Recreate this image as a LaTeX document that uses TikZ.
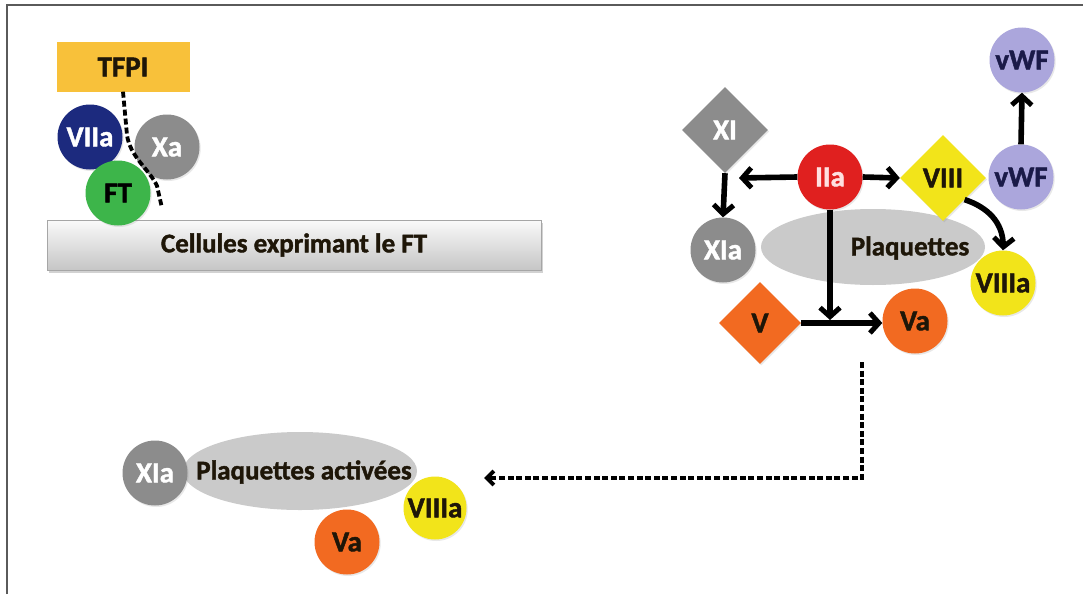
\documentclass[tikz,border=0pt]{standalone}
\usepackage{fontspec}
\setmainfont{Carlito}[BoldFeatures={FakeBold=1.5}]
\usetikzlibrary{shapes.geometric,arrows.meta,shadows,bending}

\definecolor{tfpiY}{HTML}{F8C13A}
\definecolor{navyF}{HTML}{1C2A7E}
\definecolor{grayF}{HTML}{8C8C8C}
\definecolor{greenF}{HTML}{3DB54A}
\definecolor{redF}{HTML}{E0201F}
\definecolor{yellowF}{HTML}{F2E41A}
\definecolor{lilacF}{HTML}{ABA6DC}
\definecolor{orangeF}{HTML}{F26A21}
\definecolor{plateG}{HTML}{CACACA}
\definecolor{darkTxt}{HTML}{1E1608}
\definecolor{navyTxt}{HTML}{1A1A48}
\definecolor{frameG}{HTML}{5A5A5A}

\begin{document}
\begin{tikzpicture}[x=1pt,y=-1pt,
  lbl/.style={font=\fontsize{29}{29}\selectfont\bfseries},
  longlbl/.style={font=\fontsize{27}{27}\selectfont\bfseries},
  factor/.style={circle, minimum size=65pt, inner sep=0pt, lbl,
    drop shadow={shadow xshift=1.2pt, shadow yshift=-1.5pt, opacity=0.18}},
  zymo/.style={diamond, minimum size=86pt, inner sep=0pt, lbl,
    drop shadow={shadow xshift=1.2pt, shadow yshift=-1.5pt, opacity=0.18}},
  platelet/.style={ellipse, fill=plateG, inner sep=0pt},
  flow/.style={line width=5.6pt, -{Straight Barb[length=9pt,width=20pt,line width=5pt]}},
  relay/.style={line width=4.4pt, dash pattern=on 6pt off 2.6pt,
    -{Straight Barb[length=7pt,width=14pt,line width=4pt]}},
  tfpiline/.style={line width=3.8pt, dash pattern=on 6pt off 3pt}
]
\useasboundingbox (0,0) rectangle (1083,594);
\fill[white] (0,0) rectangle (1083,594);

% page frame (left and top edges)
\draw[frameG, line width=1.6pt] (7,594) -- (7,5) -- (1083,5);

% ---------------- initiation on TF-bearing cells ----------------
\node[draw=gray!70, line width=0.8pt, top color=white!96!gray, bottom color=gray!45,
      minimum width=494pt, minimum height=50pt, inner sep=0pt,
      drop shadow={shadow xshift=1.5pt, shadow yshift=-3pt, opacity=0.35},
      longlbl, text=darkTxt]
  (cells) at (294,245) {Cellules exprimant le FT};

\node[rectangle, fill=tfpiY, minimum width=133pt, minimum height=49pt, inner sep=0pt,
      lbl, text=darkTxt] (tfpi) at (123,67) {TFPI};

\node[factor, fill=grayF, text=white] (xa) at (167,147) {Xa};
\node[factor, fill=navyF, text=white] (viia) at (90,137) {VIIa};
\node[factor, fill=greenF, text=black] (ft) at (118,193) {FT};

\coordinate (tfpiA) at (127,135);
\coordinate (tfpiB) at (157,186);
\coordinate (tfpiC) at (162,208);
\draw[tfpiline] (tfpi.south) -- (tfpiA) .. controls (130,157) and (150,170) .. (tfpiB) -- (tfpiC);

% ---------------- amplification on platelets ----------------
\node[platelet, minimum width=224pt, minimum height=76pt] (plq) at (873,247) {};
\node[longlbl, text=darkTxt] (plqtxt) at (910,248) {Plaquettes};

\node[zymo, fill=grayF, text=white] (xi) at (725,130) {XI};
\node[factor, fill=grayF, text=white] (xia) at (723,250) {XIa};
\node[factor, fill=redF, text=red!12!white] (iia) at (830,177) {IIa};
\node[zymo, fill=yellowF, text=darkTxt] (viii) at (943,178) {VIII};
\node[factor, fill=lilacF, text=navyTxt] (vwfB) at (1021,177) {vWF};
\node[factor, fill=lilacF, text=navyTxt] (vwfT) at (1022,60) {vWF};
\node[factor, fill=yellowF, text=darkTxt] (viiia) at (1003,283) {VIIIa};
\node[zymo, minimum size=82pt, fill=orangeF, text=darkTxt] (v) at (760,323) {V};
\node[factor, fill=orangeF, text=darkTxt] (va) at (915,321) {Va};

\coordinate (leftTip) at (739,178);
\coordinate (joinV) at (830,320);

\draw[flow] (xi.south) -- (xia.north);
\draw[flow] (iia.west) -- (leftTip);
\draw[flow] (iia.east) -- (viii.west);
\draw[flow] (vwfB.north) -- (vwfT.south);
\draw[flow] (viii.south east) .. controls (990,208) and (1005,225) .. (viiia.north);
\draw[flow] (iia.south) -- (joinV);
\draw[flow] (v.east) -- (v.east -| va.west);

% ---------------- relay to activated platelets ----------------
\coordinate (relayStart) at (862,362);
\coordinate (relayEnd) at (484,478);
\draw[relay] (relayStart) |- (relayEnd);

\node[platelet, minimum width=234pt, minimum height=78pt] (plqA) at (300,471) {};
\node[factor, fill=grayF, text=white] (xiaA) at (155,473) {XIa};
\node[factor, fill=orangeF, text=darkTxt] (vaA) at (347,542) {Va};
\node[factor, minimum size=63pt, fill=yellowF, text=darkTxt] (viiiaA) at (435,508) {VIIIa};
\node[longlbl, text=darkTxt] (plqAtxt) at (304,472) {Plaquettes activées};

\end{tikzpicture}
\end{document}
